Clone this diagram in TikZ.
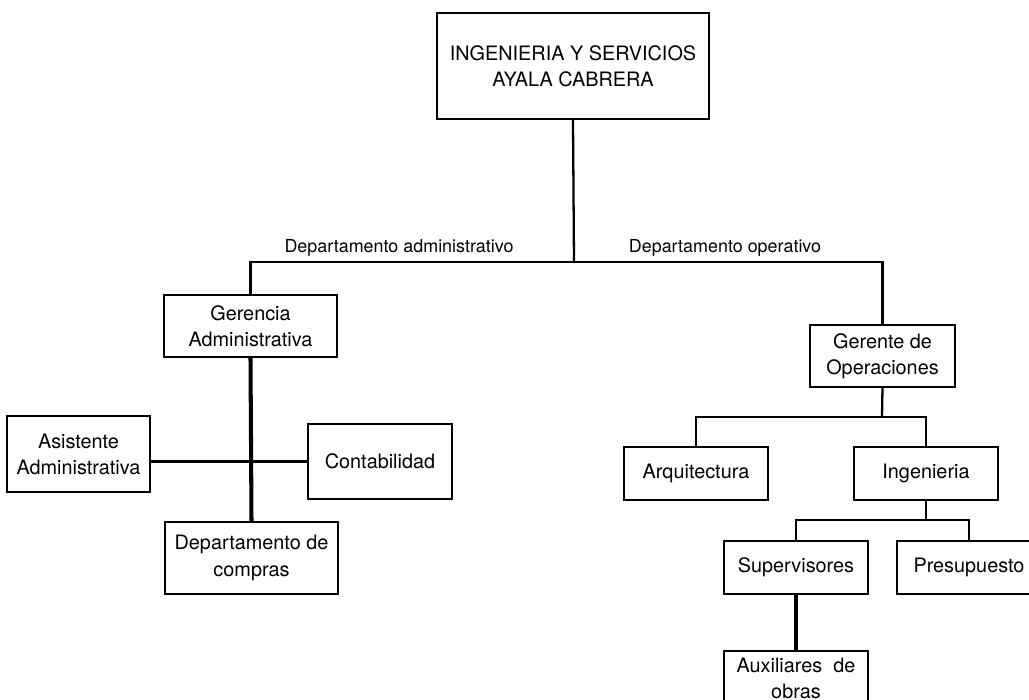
\documentclass[tikz,border=0pt]{standalone}
\usepackage{fontspec}
\setmainfont{TeX Gyre Heros}
\begin{document}
\begin{tikzpicture}[x=0.02cm,y=-0.02cm,
	cargo/.style={draw,line width=1.2pt,align=center,inner sep=2pt,font=\fontsize{11.3}{14.9}\selectfont},
	depto/.style={font=\fontsize{10.2}{11}\selectfont,inner sep=1pt},
	rama/.style={line width=1.3pt},
	ramagruesa/.style={line width=2.3pt}]
	\useasboundingbox (0,0) rectangle (1029,700);
	
	% cargos
	\node[cargo,minimum width=5.44cm,minimum height=2.12cm] (empresa) at (573,66) {INGENIERIA Y SERVICIOS\\AYALA CABRERA};
	\node[cargo,minimum width=3.46cm,minimum height=1.24cm] (gerencia) at (250.5,326) {Gerencia\\Administrativa};
	\node[cargo,minimum width=2.9cm,minimum height=1.24cm] (gerente) at (882.5,356) {Gerente de\\Operaciones};
	\node[cargo,minimum width=2.86cm,minimum height=1.52cm] (asistente) at (78.5,454) {Asistente\\Administrativa};
	\node[cargo,minimum width=2.88cm,minimum height=1.5cm] (contab) at (380,461.5) {Contabilidad};
	\node[cargo,minimum width=3.46cm,minimum height=1.44cm] (compras) at (251.5,558) {Departamento de\\compras};
	\node[cargo,minimum width=2.88cm,minimum height=1.06cm] (arq) at (696,473.5) {Arquitectura};
	\node[cargo,minimum width=2.88cm,minimum height=1.06cm] (ing) at (926,473.5) {Ingenieria};
	\node[cargo,minimum width=2.88cm,minimum height=1.06cm] (sup) at (796,567.5) {Supervisores};
	\node[cargo,minimum width=2.88cm,minimum height=1.06cm] (pres) at (969,567.5) {Presupuesto};
	\node[cargo,minimum width=2.88cm,minimum height=1.08cm] (aux) at (796,678) {Auxiliares~~de\\obras};
	
	% departamentos
	\coordinate (barra) at (574,262);
	\coordinate (barraops) at (882,417);
	\coordinate (barraing) at (926,520);
	\node[depto,anchor=south] (admin) at (399,259) {Departamento administrativo};
	\node[depto,anchor=south] (opera) at (725,259) {Departamento operativo};
	
	% conexiones
	\draw[rama] (empresa.south) -- (barra);
	\draw[rama] (gerencia.north) |- (barra) -| (gerente.north);
	\draw[ramagruesa] (gerencia.south) -- (compras.north);
	\draw[rama] (contab.west) -- (contab.west -| asistente.east);
	\draw[rama] (gerente.south) -- (barraops);
	\draw[rama] (arq.north) |- (barraops) -| (ing.north);
	\draw[rama] (ing.south) -- (barraing);
	\draw[rama] (sup.north) |- (barraing) -| (pres.north);
	\draw[ramagruesa] (sup.south) -- (aux.north);
\end{tikzpicture}
\end{document}
